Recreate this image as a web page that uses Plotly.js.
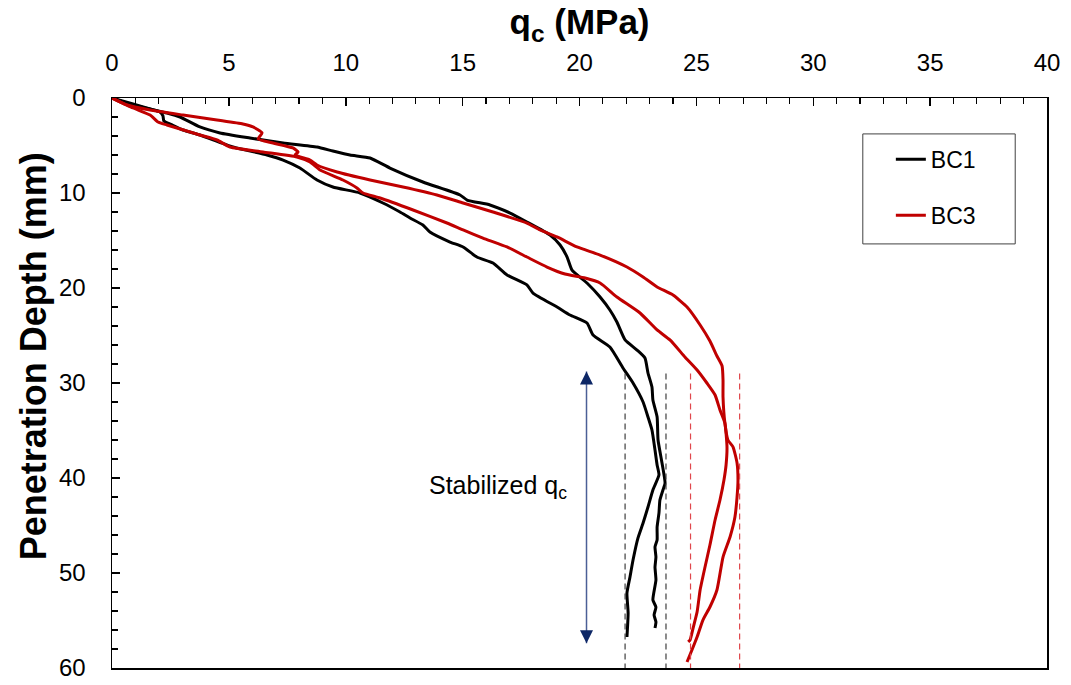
<!DOCTYPE html>
<html><head><meta charset="utf-8">
<script src="https://cdn.plot.ly/plotly-3.0.1.min.js"></script>
<style>html,body{margin:0;padding:0;background:#fff}#chart{width:1071px;height:685px}</style>
</head><body><div id="chart"></div>
<script>
// BC1 test a
const bc1aQc = [0,0.90,2.35,2.91,3.76,4.62,5.90,7.32,8.77,9.45,10.18,11.04,11.89,13.30,14.89,15.19,16.17,17.03,17.75,18.74,19.17,19.47,19.68,20.32,20.88,21.30,21.60,21.95,22.46,22.80,22.93,23.10,23.14,23.32,23.36,23.53,23.66,23.57,23.44,23.40,23.32,23.32,23.23,23.27,23.23,23.27,23.14,23.27,23.19,23.27,23.23];
const bc1aDepth = [0,0.74,1.58,2.00,3.05,3.68,4.21,4.74,5.16,5.58,6.00,6.32,7.37,8.84,10.21,10.74,11.26,12.11,13.05,14.42,15.47,16.74,18.11,19.47,20.95,22.32,23.58,25.47,26.53,27.37,28.95,30.42,31.79,33.58,36.00,38.42,40.53,41.26,42.32,43.68,45.16,46.53,47.26,48.32,49.37,50.74,52.84,53.58,54.42,55.16,55.79];
// BC1 test b
const bc1bQc = [0,0.90,1.63,2.05,2.18,2.22,2.57,3.04,3.76,5.18,6.63,7.32,8.04,8.77,9.45,10.61,11.59,12.32,12.75,13.30,13.60,14.46,15.02,15.61,16.30,16.90,17.75,18.01,19.04,19.59,20.32,20.58,21.30,21.86,22.29,22.72,22.93,23.10,23.23,23.32,23.40,23.14,22.93,22.72,22.50,22.29,22.16,22.03,22.08,22.03];
const bc1bDepth = [0,0.63,1.16,1.47,1.89,2.42,2.84,3.37,3.89,5.16,6.00,6.53,7.37,8.63,9.37,10.00,11.05,12.00,12.63,13.37,14.11,15.16,15.68,16.74,17.37,18.63,19.68,20.53,22.00,22.84,23.68,24.95,26.21,28.42,30.00,32.00,33.58,34.95,37.05,38.63,39.68,41.26,43.05,44.74,46.32,48.63,50.42,52.11,54.21,56.74];
// BC3 test a
const bc3aQc = [0,0.64,1.63,3.04,4.49,5.60,6.03,6.42,6.25,6.89,7.74,7.96,7.83,8.47,8.77,9.63,11.04,12.45,13.90,15.02,16.30,17.75,18.31,19.04,19.89,20.88,22.03,22.72,23.32,24.00,24.60,25.16,25.58,25.88,26.10,26.14,26.14,26.22,26.35,26.57,26.74,26.78,26.74,26.65,26.44,26.14,25.88,25.58,25.28,25.03,24.81,24.60];
const bc3aDepth = [0,0.74,1.26,1.79,2.32,2.74,3.05,3.68,4.32,4.74,5.26,5.68,6.00,6.53,7.05,7.79,8.63,9.37,10.21,11.05,12.00,13.16,13.89,14.63,15.68,16.53,17.79,18.84,19.89,20.74,22.00,23.89,25.58,27.16,28.21,29.68,31.47,34.21,36.00,36.74,38.42,40.21,42.00,44.11,46.21,48.32,51.79,53.58,54.95,56.74,58.11,59.37];
// BC3 test b
const bc3bQc = [0,0.90,1.63,1.97,2.35,3.76,4.49,5.05,6.46,7.91,8.47,8.90,9.88,10.48,10.74,11.47,12.88,14.33,15.02,15.87,16.90,17.75,18.61,19.38,20.24,20.88,21.60,22.59,23.32,23.87,24.51,25.03,25.45,25.80,26.01,26.22,26.31,26.27,26.18,26.01,25.80,25.58,25.37,25.16,25.03,24.86,24.73,24.65];
const bc3bDepth = [0,1.05,1.79,2.53,2.84,3.89,4.42,5.16,5.68,6.21,6.74,7.58,8.63,9.47,10.00,10.53,11.79,13.16,13.89,14.74,15.68,16.74,17.79,18.53,18.95,19.47,20.95,22.63,24.42,25.47,27.26,28.63,30.00,31.26,32.84,34.21,36.74,38.63,40.21,42.32,44.42,47.05,49.37,51.79,54.11,55.79,57.05,57.26];
// stabilized qc bounds (MPa) and depth span of bound lines (mm)
const bc1Bounds = [21.95, 23.7];
const bc3Bounds = [24.75, 26.85];
const boundDepth = [29, 60];
// arrow marking stabilized zone
const arrowQc = 20.3;
const arrowDepth = [28.8, 57.4];
const labelQc = 16.5, labelDepth = 40.9;
const labelText = 'Stabilized q<sub>c</sub>';
const xTitle = 'q<sub>c</sub> (MPa)';
const yTitle = 'Penetration Depth (mm)';
const seriesNames = ['BC1', 'BC3'];

const FONT = '"Liberation Sans", Arial, sans-serif';
const BLACK = '#000000', RED = '#C00000';
const curveLine = c => ({color: c, width: 3, shape: 'spline', smoothing: 0.5});

const traces = [
  {x: bc1aQc, y: bc1aDepth, name: seriesNames[0], legendgroup: 'bc1', mode: 'lines', line: curveLine(BLACK)},
  {x: bc1bQc, y: bc1bDepth, name: seriesNames[0], legendgroup: 'bc1', showlegend: false, mode: 'lines', line: curveLine(BLACK)},
  {x: bc3aQc, y: bc3aDepth, name: seriesNames[1], legendgroup: 'bc3', mode: 'lines', line: curveLine(RED)},
  {x: bc3bQc, y: bc3bDepth, name: seriesNames[1], legendgroup: 'bc3', showlegend: false, mode: 'lines', line: curveLine(RED)}
];
bc1Bounds.forEach(v => traces.push({x: [v, v], y: boundDepth, mode: 'lines', showlegend: false, hoverinfo: 'skip', line: {color: '#404040', width: 1.2, dash: '6px,4px'}}));
bc3Bounds.forEach(v => traces.push({x: [v, v], y: boundDepth, mode: 'lines', showlegend: false, hoverinfo: 'skip', line: {color: '#E0474C', width: 1.2, dash: '6px,4px'}}));
// double-headed arrow
traces.push({x: [arrowQc, arrowQc], y: arrowDepth, mode: 'lines+markers', showlegend: false, hoverinfo: 'skip',
  line: {color: '#4B5F96', width: 1.5},
  marker: {symbol: ['arrow-up', 'arrow-down'], size: 13, color: '#0D2766', line: {width: 0}}});

const layout = {
  width: 1071, height: 685,
  margin: {l: 112, r: 24, t: 98, b: 17},
  paper_bgcolor: '#fff', plot_bgcolor: '#fff',
  font: {family: FONT, color: '#000'},
  showlegend: true,
  legend: {x: 0.833, y: 0.93, xanchor: 'left', yanchor: 'top', bgcolor: 'rgba(0,0,0,0)', borderwidth: 0,
           font: {size: 23, family: FONT, color: '#000'}, traceorder: 'grouped', tracegroupgap: 23},
  xaxis: {
    side: 'top', range: [0, 40], dtick: 5, tick0: 0,
    ticks: 'inside', ticklen: 8, tickwidth: 1.5, tickcolor: '#000',
    minor: {dtick: 1, ticks: 'inside', ticklen: 6, tickwidth: 1.2, tickcolor: '#000'},
    showline: true, linecolor: '#000', linewidth: 1.5, mirror: true,
    showgrid: false, zeroline: false,
    tickfont: {size: 24, family: FONT}, ticklabelstandoff: 16,
    title: {text: xTitle, font: {size: 35, family: FONT, weight: 'bold'}, standoff: 3}
  },
  yaxis: {
    range: [60, 0], dtick: 10, tick0: 0,
    ticks: 'inside', ticklen: 8, tickwidth: 1.5, tickcolor: '#000',
    minor: {dtick: 2, ticks: 'inside', ticklen: 6, tickwidth: 1.2, tickcolor: '#000'},
    showline: true, linecolor: '#000', linewidth: 1.5, mirror: true,
    showgrid: false, zeroline: false,
    tickfont: {size: 24, family: FONT}, ticklabelstandoff: 20
  },
  shapes: [
    // legend frame
    {type: 'rect', xref: 'paper', yref: 'paper', x0: 0.803, x1: 0.966, y0: 0.744, y1: 0.937, line: {color: '#404040', width: 1}, fillcolor: 'rgba(0,0,0,0)'}
  ],
  annotations: [
    {x: labelQc, y: labelDepth, xref: 'x', yref: 'y', text: labelText, showarrow: false, font: {size: 25, family: FONT, color: '#000'}},
    {x: -0.0845, y: 0.547, xref: 'paper', yref: 'paper', text: yTitle, textangle: -90, showarrow: false, xanchor: 'center', yanchor: 'middle',
     font: {size: 36, family: FONT, weight: 'bold', color: '#000'}}
  ]
};

Plotly.newPlot('chart', traces, layout, {displayModeBar: false, staticPlot: true});
</script>
</body></html>
